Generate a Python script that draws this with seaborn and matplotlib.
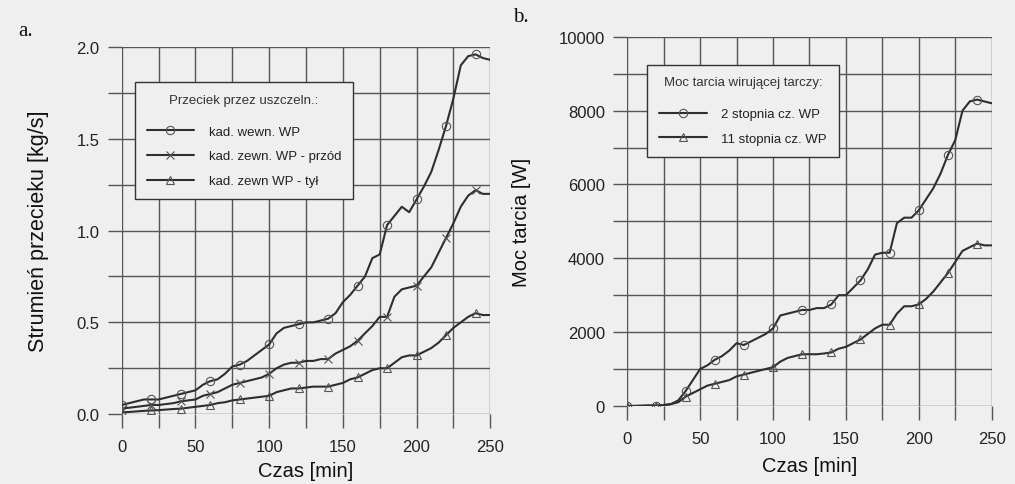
import numpy as np
import pandas as pd
import matplotlib
matplotlib.use("Agg")
import matplotlib.pyplot as plt
import seaborn as sns
from matplotlib.ticker import MultipleLocator, FormatStrFormatter

# ---------------- data ----------------
time_min = list(range(0, 251, 5))

leak_inner = [0.05, 0.06, 0.07, 0.08, 0.08, 0.08, 0.09, 0.10, 0.11, 0.12,
              0.13, 0.16, 0.18, 0.19, 0.22, 0.26, 0.27, 0.29, 0.32, 0.35,
              0.38, 0.44, 0.47, 0.48, 0.49, 0.50, 0.50, 0.51, 0.52, 0.55,
              0.61, 0.65, 0.70, 0.75, 0.85, 0.87, 1.03, 1.08, 1.13, 1.10,
              1.17, 1.24, 1.32, 1.44, 1.57, 1.72, 1.90, 1.95, 1.96, 1.94, 1.93]
leak_front = [0.03, 0.035, 0.04, 0.045, 0.05, 0.05, 0.055, 0.06, 0.07, 0.075,
              0.08, 0.10, 0.11, 0.12, 0.14, 0.16, 0.17, 0.18, 0.19, 0.20,
              0.22, 0.25, 0.27, 0.28, 0.28, 0.29, 0.29, 0.30, 0.30, 0.33,
              0.35, 0.37, 0.40, 0.44, 0.48, 0.53, 0.53, 0.64, 0.68, 0.69,
              0.70, 0.75, 0.80, 0.88, 0.96, 1.04, 1.13, 1.19, 1.22, 1.20, 1.20]
leak_rear = [0.01, 0.012, 0.015, 0.018, 0.02, 0.022, 0.025, 0.028, 0.03, 0.035,
             0.04, 0.045, 0.05, 0.06, 0.065, 0.075, 0.08, 0.085, 0.09, 0.095,
             0.10, 0.12, 0.13, 0.14, 0.14, 0.145, 0.15, 0.15, 0.15, 0.16,
             0.17, 0.19, 0.20, 0.22, 0.24, 0.25, 0.25, 0.28, 0.31, 0.32,
             0.32, 0.34, 0.36, 0.39, 0.43, 0.47, 0.50, 0.53, 0.55, 0.54, 0.54]

power_stage2 = [0, 0, 5, 10, 10, 20, 50, 150, 400, 700,
                1000, 1100, 1250, 1350, 1500, 1700, 1650, 1750, 1850, 1950,
                2100, 2450, 2500, 2550, 2600, 2600, 2650, 2650, 2750, 3000,
                3000, 3200, 3400, 3700, 4100, 4150, 4150, 4950, 5100, 5100,
                5300, 5600, 5900, 6300, 6800, 7200, 8000, 8250, 8300, 8250, 8200]
power_stage11 = [0, 0, 5, 10, 10, 20, 50, 100, 250, 350,
                 450, 550, 600, 650, 700, 800, 850, 900, 950, 1000,
                 1050, 1200, 1300, 1350, 1400, 1400, 1400, 1420, 1450, 1550,
                 1600, 1700, 1800, 1950, 2100, 2200, 2200, 2500, 2700, 2700,
                 2750, 2900, 3100, 3350, 3600, 3900, 4200, 4300, 4400, 4350, 4350]

labels_a = ["kad. wewn. WP", "kad. zewn. WP - przód", "kad. zewn WP - tył"]
labels_b = ["2 stopnia cz. WP", "11 stopnia cz. WP"]
title_a = "Przeciek przez uszczeln.:"
title_b = "Moc tarcia wirującej tarczy:"

# ---------------- style ----------------
BG = "#efefef"
GRID = "#555555"
LINE = "#2e2e2e"
sns.set_style("white")
plt.rcParams["font.family"] = ["Liberation Sans", "DejaVu Sans"]

fig = plt.figure(figsize=(10.15, 4.85), dpi=100, facecolor=BG)
ax_a = fig.add_axes([0.120, 0.144, 0.363, 0.757])
ax_b = fig.add_axes([0.618, 0.161, 0.359, 0.761])

df_a = pd.DataFrame({"t": time_min, "inner": leak_inner,
                     "front": leak_front, "rear": leak_rear})
df_b = pd.DataFrame({"t": time_min, "s2": power_stage2, "s11": power_stage11})

mk = dict(markevery=4, markersize=6, markerfacecolor="none",
          markeredgecolor="#555555", markeredgewidth=0.8, linewidth=1.5)

sns.lineplot(data=df_a, x="t", y="inner", ax=ax_a, color=LINE, marker="o",
             label=labels_a[0], **mk)
sns.lineplot(data=df_a, x="t", y="front", ax=ax_a, color=LINE, marker="x",
             label=labels_a[1], **mk)
sns.lineplot(data=df_a, x="t", y="rear", ax=ax_a, color=LINE, marker="^",
             label=labels_a[2], **mk)

sns.lineplot(data=df_b, x="t", y="s2", ax=ax_b, color=LINE, marker="o",
             label=labels_b[0], **mk)
sns.lineplot(data=df_b, x="t", y="s11", ax=ax_b, color=LINE, marker="^",
             label=labels_b[1], **mk)

def style_axes(ax, ymax, ymajor, yminor, yfmt, xlabelpad):
    ax.set_facecolor(BG)
    ax.set_xlim(0, 250)
    ax.set_ylim(0, ymax)
    ax.xaxis.set_major_locator(MultipleLocator(50))
    ax.xaxis.set_minor_locator(MultipleLocator(25))
    ax.yaxis.set_major_locator(MultipleLocator(ymajor))
    ax.yaxis.set_minor_locator(MultipleLocator(yminor))
    ax.yaxis.set_major_formatter(yfmt)
    ax.grid(True, which="both", color=GRID, linewidth=1.0)
    ax.set_axisbelow(True)
    for s in ax.spines.values():
        s.set_visible(False)
    ax.tick_params(which="both", bottom=True, left=True, top=False, right=False,
                   direction="out", length=10, width=1.0,
                   color=GRID, labelsize=12, labelcolor="#222222", pad=6)
    ax.tick_params(axis="x", which="both", pad=8)
    ax.set_xlabel("Czas [min]", fontsize=14.5, color="#111111", labelpad=xlabelpad)

style_axes(ax_a, 2.0, 0.5, 0.25, FormatStrFormatter("%.1f"), 5)
style_axes(ax_b, 10000, 2000, 1000, FormatStrFormatter("%d"), 7)
ax_a.set_ylabel("Strumień przecieku [kg/s]", fontsize=15.5, color="#111111", labelpad=20)
ax_b.set_ylabel("Moc tarcia [W]", fontsize=14.5, color="#111111", labelpad=20)

for ax, title, loc in [(ax_a, title_a, (0.035, 0.586)), (ax_b, title_b, (0.055, 0.675))]:
    leg = ax.legend(title=title, loc="lower left", bbox_to_anchor=loc,
                    fontsize=9.5, title_fontsize=9.5, handlelength=3.6,
                    handletextpad=1.1, labelspacing=0.95, borderpad=0.9,
                    frameon=True, fancybox=False, facecolor=BG,
                    edgecolor="#333333", framealpha=1, borderaxespad=0)
    leg.get_frame().set_linewidth(1.0)
    leg.get_title().set_color("#333333")
    for t in leg.get_texts():
        t.set_color("#222222")
    leg._legend_box.sep = 14

fig.text(0.018, 0.925, "a.", fontsize=15, family="Liberation Serif", color="#111111")
fig.text(0.505, 0.955, "b.", fontsize=15, family="Liberation Serif", color="#111111")

fig.savefig("out.png", dpi=100, facecolor=BG)
